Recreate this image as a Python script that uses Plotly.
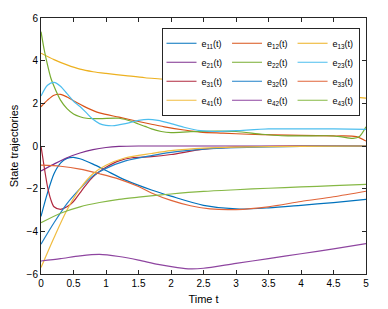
import plotly.graph_objects as go

# ---- data ----
names = ["e<sub>11</sub>(t)", "e<sub>12</sub>(t)", "e<sub>13</sub>(t)",
         "e<sub>21</sub>(t)", "e<sub>22</sub>(t)", "e<sub>23</sub>(t)",
         "e<sub>31</sub>(t)", "e<sub>32</sub>(t)", "e<sub>33</sub>(t)",
         "e<sub>41</sub>(t)", "e<sub>42</sub>(t)", "e<sub>43</sub>(t)"]
columns = ["c1", "c2", "c3"] * 4

colors = ["#0072BD", "#D95319", "#EDB120",
          "#7E2F8E", "#77AC30", "#4DBEEE",
          "#B0283F", "#1F80C8", "#E0653A",
          "#F0BC40", "#8E45A0", "#86B845"]

t11 = [0, 0.1, 0.2, 0.3, 0.4, 0.5, 0.6, 0.8, 1.0, 1.3, 1.7, 2.0, 2.5, 3.0, 3.5, 4.0, 4.5, 5.0]
e11 = [-3.3, -2.2, -1.3, -0.8, -0.58, -0.53, -0.6, -0.85, -1.15, -1.6, -2.06, -2.35, -2.78, -2.95, -2.9, -2.78, -2.65, -2.5]

t12 = [0, 0.1, 0.2, 0.3, 0.4, 0.5, 0.7, 0.9, 1.2, 1.5, 1.7, 1.9, 2.2, 2.45, 2.8, 3.2, 3.6, 4.0, 4.5, 4.85, 5.0]
e12 = [1.84, 2.15, 2.38, 2.42, 2.3, 2.12, 1.8, 1.55, 1.35, 1.15, 1.02, 0.9, 0.75, 0.65, 0.6, 0.55, 0.52, 0.5, 0.47, 0.44, 0.23]

t13 = [0, 0.2, 0.4, 0.6, 0.8, 1.0, 1.3, 1.6, 1.9, 2.5, 3.0, 3.5, 4.0, 4.5, 5.0]
e13 = [4.35, 4.05, 3.8, 3.6, 3.48, 3.4, 3.3, 3.2, 3.13, 2.95, 2.8, 2.65, 2.5, 2.37, 2.24]

t21 = [0, 0.2, 0.4, 0.6, 0.8, 1.0, 1.2, 1.5, 2.0, 3.0, 4.0, 5.0]
e21 = [-1.17, -0.85, -0.55, -0.33, -0.17, -0.07, -0.02, 0, 0, 0, 0, 0]

t22 = [0, 0.05, 0.1, 0.15, 0.2, 0.3, 0.4, 0.5, 0.6, 0.7, 0.9, 1.2, 1.4, 1.5, 1.6, 1.7, 1.85, 2.0, 2.3, 2.7, 3.0, 3.4, 3.7, 4.0, 4.4, 4.6, 4.8, 4.9, 5.0]
e22 = [5.36, 4.5, 3.8, 3.2, 2.8, 2.15, 1.75, 1.5, 1.37, 1.3, 1.28, 1.3, 1.15, 1.03, 0.92, 0.8, 0.68, 0.63, 0.67, 0.7, 0.68, 0.55, 0.48, 0.47, 0.48, 0.44, 0.36, 0.45, 0.9]

t23 = [0, 0.1, 0.2, 0.3, 0.4, 0.5, 0.6, 0.7, 0.8, 0.9, 1.0, 1.1, 1.3, 1.5, 1.65, 1.8, 2.0, 2.2, 2.45, 2.7, 3.0, 3.5, 4.0, 4.5, 5.0]
e23 = [2.34, 2.85, 2.98, 2.8, 2.45, 2.1, 1.85, 1.55, 1.25, 1.05, 0.97, 0.95, 1.05, 1.2, 1.25, 1.2, 1.05, 0.88, 0.72, 0.68, 0.72, 0.8, 0.8, 0.8, 0.78]

t31 = [0, 0.05, 0.1, 0.15, 0.2, 0.3, 0.4, 0.5, 0.6, 0.7, 0.8, 0.9, 1.0, 1.2, 1.4, 1.7, 2.0, 2.5, 3.0, 4.0, 5.0]
e31 = [0, -1.0, -1.9, -2.5, -2.85, -2.97, -2.85, -2.6, -2.2, -1.8, -1.45, -1.2, -1.0, -0.7, -0.55, -0.5, -0.4, -0.15, -0.05, 0, 0]

t32 = [0, 0.2, 0.4, 0.6, 0.8, 1.0, 1.3, 1.7, 2.0, 2.5, 3.0, 4.0, 5.0]
e32 = [-4.6, -3.6, -2.7, -2.0, -1.4, -1.05, -0.7, -0.45, -0.3, -0.15, -0.08, -0.02, 0]

t33 = [0, 0.3, 0.6, 0.9, 1.2, 1.5, 1.7, 2.0, 2.3, 2.6, 3.0, 3.5, 4.0, 4.5, 5.0]
e33 = [-0.9, -0.95, -1.08, -1.3, -1.55, -1.9, -2.2, -2.55, -2.8, -2.95, -2.98, -2.85, -2.6, -2.38, -2.12]

t41 = [0, 0.2, 0.4, 0.6, 0.8, 1.0, 1.3, 1.7, 2.0, 2.5, 3.0, 4.0, 5.0]
e41 = [-5.7, -4.3, -3.0, -2.0, -1.3, -0.9, -0.55, -0.35, -0.22, -0.1, -0.05, -0.02, 0]

t42 = [0, 0.3, 0.6, 0.9, 1.2, 1.5, 1.8, 2.1, 2.3, 2.5, 3.0, 3.5, 4.0, 4.5, 5.0]
e42 = [-5.39, -5.28, -5.15, -5.08, -5.18, -5.35, -5.55, -5.7, -5.76, -5.73, -5.5, -5.28, -5.05, -4.82, -4.58]

t43 = [0, 0.3, 0.6, 0.9, 1.2, 1.5, 2.0, 2.5, 3.0, 3.5, 4.0, 4.5, 5.0]
e43 = [-3.6, -3.15, -2.85, -2.65, -2.5, -2.4, -2.25, -2.13, -2.05, -1.98, -1.92, -1.86, -1.8]

ts = [t11, t12, t13, t21, t22, t23, t31, t32, t33, t41, t42, t43]
es = [e11, e12, e13, e21, e22, e23, e31, e32, e33, e41, e42, e43]

xticks = [0, 0.5, 1, 1.5, 2, 2.5, 3, 3.5, 4, 4.5, 5]
xticklabels = ["0", "0.5", "1", "1.5", "2", "2.5", "3", "3.5", "4", "4.5", "5"]
yticks = [-6, -4, -2, 0, 2, 4, 6]

fig = go.Figure()
for n, g, c, t, e in zip(names, columns, colors, ts, es):
    fig.add_trace(go.Scatter(x=t, y=e, mode="lines", name=n, legendgroup=g,
                             line=dict(color=c, width=1.2, shape="spline", smoothing=0.8)))

font = "Liberation Sans, Arial, sans-serif"
fig.update_layout(
    width=380, height=301,
    margin=dict(l=33, r=22, t=10, b=35, autoexpand=False),
    paper_bgcolor="white", plot_bgcolor="white",
    font=dict(family=font, size=10, color="black"),
    showlegend=True,
    legend=dict(orientation="h", traceorder="grouped",
                x=0.98, y=0.962, xanchor="right", yanchor="top",
                bgcolor="white", bordercolor="#262626", borderwidth=1,
                itemwidth=30, tracegroupgap=0,
                font=dict(family=font, size=9, color="black")),
    xaxis=dict(range=[0, 5], tickvals=xticks, ticktext=xticklabels,
               ticks="inside", ticklen=4, tickcolor="#262626", automargin=False,
               showline=True, linecolor="#262626", linewidth=1, mirror="ticks",
               showgrid=False, zeroline=False,
               title=dict(text="Time t", font=dict(size=11), standoff=7)),
    yaxis=dict(range=[-6, 6], tickvals=yticks,
               ticks="inside", ticklen=4, tickcolor="#262626", automargin=False,
               showline=True, linecolor="#262626", linewidth=1, mirror="ticks",
               showgrid=False, zeroline=False,
               title=dict(text="State trajectories", font=dict(size=11), standoff=6)),
)

fig.write_html("out.html")
